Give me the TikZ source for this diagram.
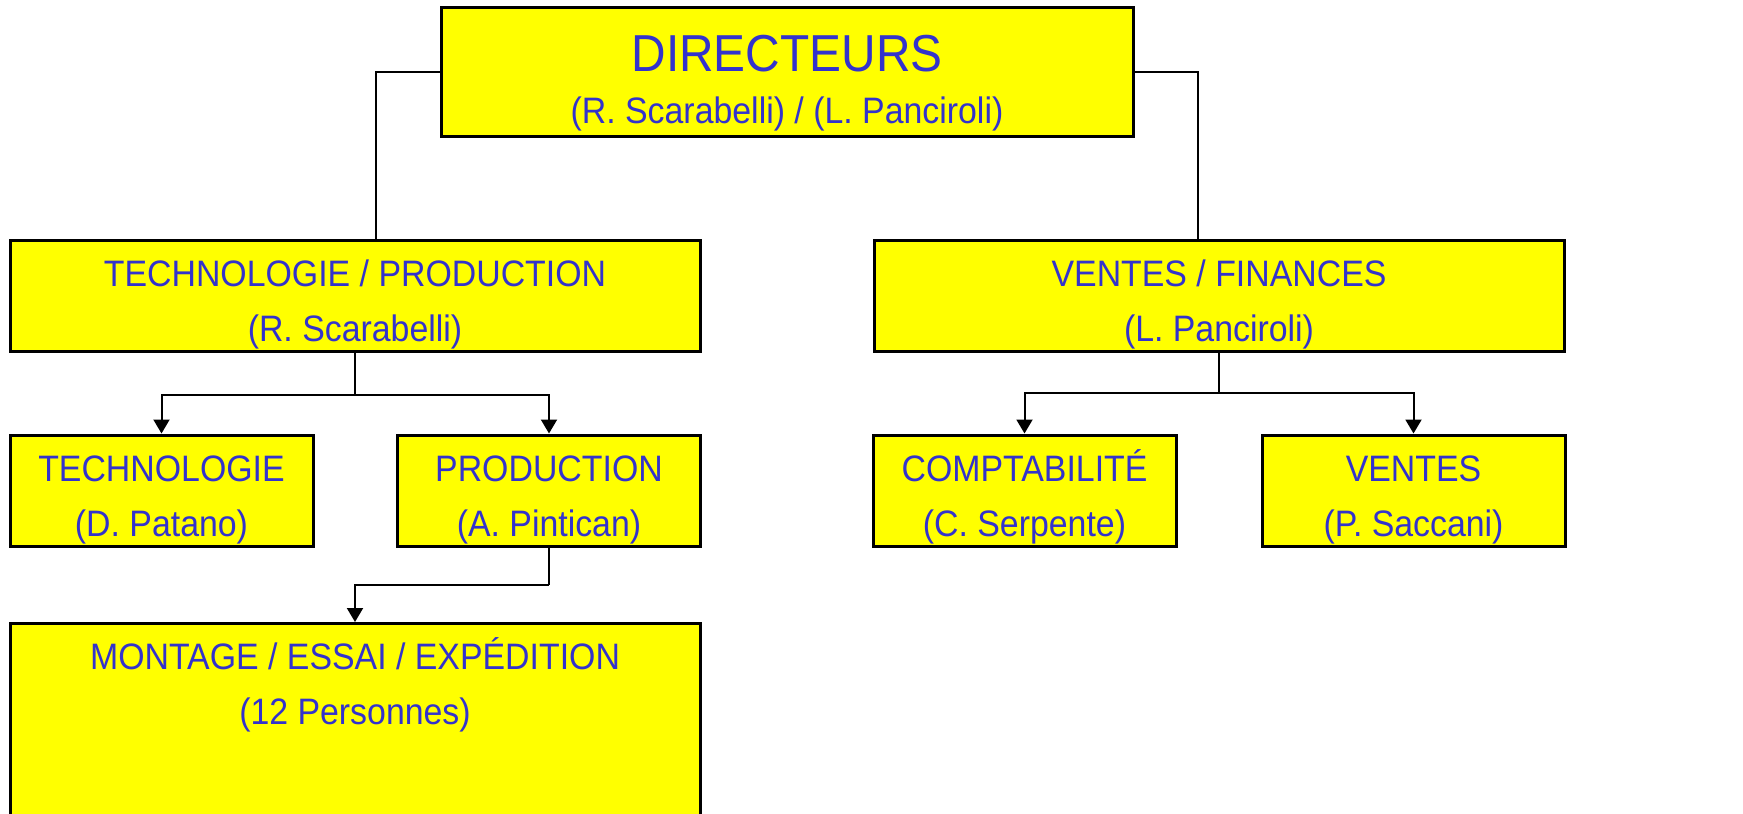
\documentclass[tikz,border=0pt]{standalone}
\usepackage{fontspec}
\setmainfont[FakeStretch=0.92]{Liberation Sans}
\usetikzlibrary{positioning}
\usetikzlibrary{arrows.meta}
\definecolor{txtblue}{RGB}{51,51,204}
\definecolor{boxyellow}{RGB}{255,255,0}
\tikzset{
  box/.style={draw, line width=1.5pt, fill=boxyellow, text=txtblue, align=center, inner sep=0pt,
    text height=50.5pt, text depth=5pt, font=\fontsize{18.4}{27.5}\selectfont},
  widebox/.style={box, minimum width=345pt, minimum height=55.5pt},
  smallbox/.style={box, minimum width=151.5pt, minimum height=55.5pt},
  link/.style={line width=1pt},
  arrow/.style={link, -{Triangle[length=7pt,width=8pt]}}
}
\begin{document}
\begin{tikzpicture}[x=0.5pt,y=-0.5pt]
\useasboundingbox (0,0) rectangle (1743,813);
% boxes
\node[box, minimum width=346pt, text height=57.5pt, text depth=6.5pt] (dir) at (787,72)
  {{\fontsize{26}{30}\selectfont DIRECTEURS}\\[-2pt](R. Scarabelli) / (L. Panciroli)};
\node[widebox] (techprod) at (355,295.5) {TECHNOLOGIE / PRODUCTION\\(R. Scarabelli)};
\node[widebox] (ventfin) at (1219,295.5) {VENTES / FINANCES\\(L. Panciroli)};
\node[smallbox] (techno) at (161.5,490.5) {TECHNOLOGIE\\(D. Patano)};
\node[smallbox] (prod) at (549,490.5) {PRODUCTION\\(A. Pintican)};
\node[smallbox] (compta) at (1024.5,490.5) {COMPTABILITÉ\\(C. Serpente)};
\node[smallbox] (ventes) at (1413.5,490.5) {VENTES\\(P. Saccani)};
\node[box, minimum width=345pt, anchor=north, text depth=100pt] (montage) at (355,622)
  {MONTAGE / ESSAI / EXPÉDITION\\(12 Personnes)};
% connectors
\draw[link] (dir.west) -| ([xshift=10.5pt]techprod.north);
\draw[link] (dir.east) -| ([xshift=-10.5pt]ventfin.north);
\draw[link] (techprod.south) -- ++(0,42) coordinate (tpfork);
\draw[arrow] (tpfork) -| (techno.north);
\draw[arrow] (tpfork) -| (prod.north);
\draw[link] (ventfin.south) -- ++(0,40) coordinate (vffork);
\draw[arrow] (vffork) -| (compta.north);
\draw[arrow] (vffork) -| (ventes.north);
\draw[link] (prod.south) -- ++(0,37) coordinate (prfork);
\draw[arrow] (prfork) -| (montage.north);
\end{tikzpicture}
\end{document}
